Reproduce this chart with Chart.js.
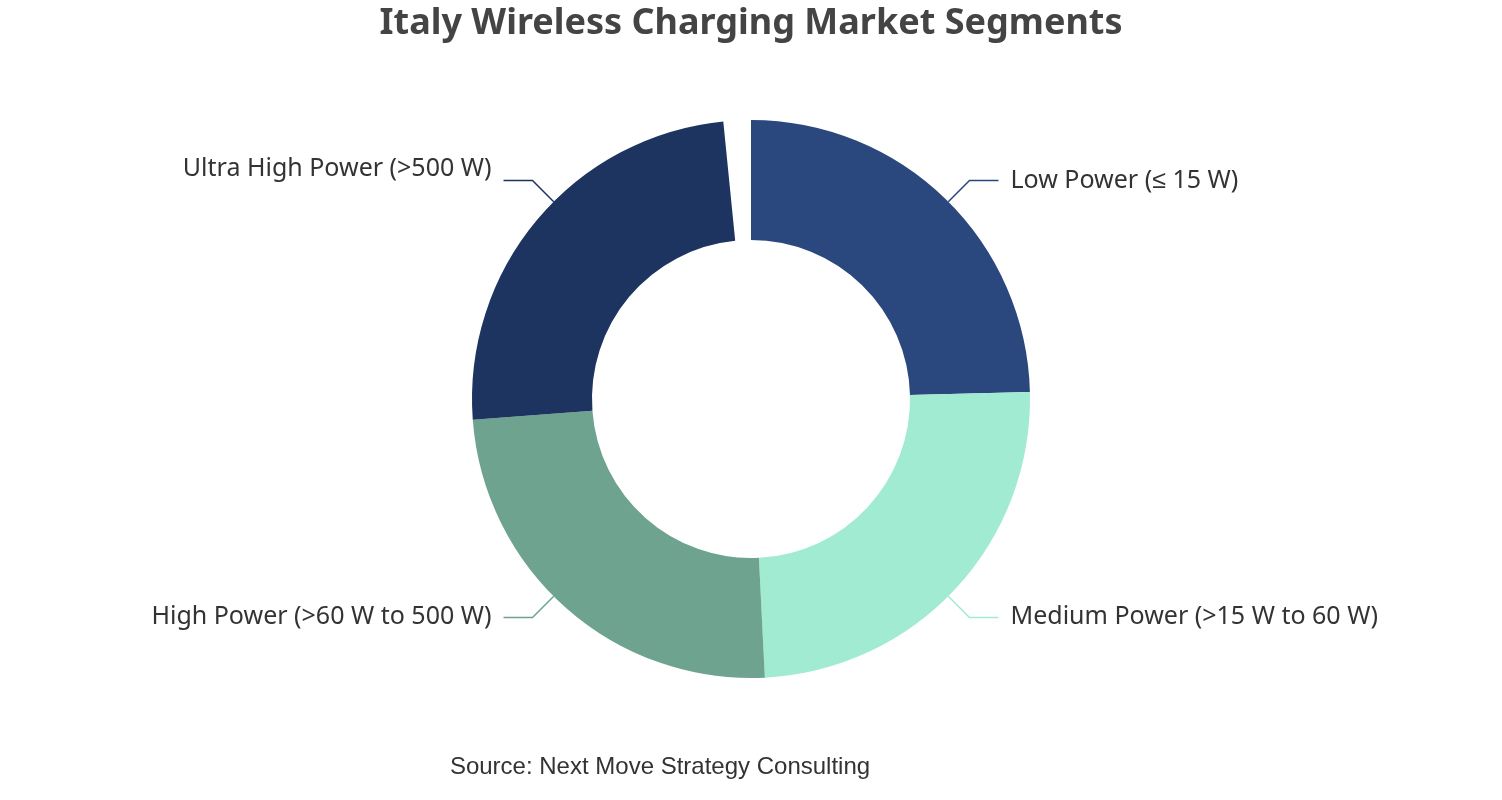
<!DOCTYPE html>
<html>
<head>
<meta charset="utf-8">
<title>Italy Wireless Charging Market Segments</title>
<script src="https://cdn.jsdelivr.net/npm/chart.js@4.4.0/dist/chart.umd.min.js"></script>
<style>
  html, body { margin: 0; padding: 0; background: #fff; }
  #wrap { width: 1502px; height: 800px; position: relative; }
</style>
</head>
<body>
<div id="wrap"><canvas id="segChart" width="1502" height="800"></canvas></div>
<script>
// segment names and shares (equal quarters in the source chart)
const segments = [
  'Low Power (≤ 15 W)',
  'Medium Power (>15 W to 60 W)',
  'High Power (>60 W to 500 W)',
  'Ultra High Power (>500 W)'
];
const shares = [25, 25, 25, 25];
const segmentColors = ['#2a487d', '#a0ebd2', '#6ea48f', '#1e3460'];

const chartTitle = 'Italy Wireless Charging Market Segments';
const sourceNote = 'Source: Next Move Strategy Consulting';

// draws title, source line and the leader-line labels
const outsideLabels = {
  id: 'outsideLabels',
  afterDraw(chart) {
    const ctx = chart.ctx;
    const meta = chart.getDatasetMeta(0);
    const total = shares.reduce((a, b) => a + b, 0);
    const liftY = [0, 0, 0, -12]; // the top-left label sits a bit above its line
    let cum = 0;

    ctx.save();
    meta.data.forEach((arc, i) => {
      const mid = -Math.PI / 2 + 2 * Math.PI * (cum + shares[i] / 2) / total;
      cum += shares[i];
      const r = arc.outerRadius;
      const cos = Math.cos(mid), sin = Math.sin(mid);
      const x0 = arc.x + r * cos, y0 = arc.y + r * sin;
      const x1 = arc.x + (r + 30) * cos, y1 = arc.y + (r + 30) * sin;
      const right = cos >= 0;
      const x2 = x1 + (right ? 29 : -29);

      ctx.strokeStyle = segmentColors[i];
      ctx.lineWidth = 1.5;
      ctx.beginPath();
      ctx.moveTo(x0, y0);
      ctx.lineTo(x1, y1);
      ctx.lineTo(x2, y1);
      ctx.stroke();

      ctx.fillStyle = '#333';
      ctx.font = '25px "Noto Sans", sans-serif';
      ctx.textAlign = right ? 'left' : 'right';
      ctx.textBaseline = 'alphabetic';
      ctx.fillText(segments[i], x2 + (right ? 12 : -12), y1 + 7 + liftY[i]);
    });

    ctx.fillStyle = '#444';
    ctx.font = 'bold 36px "Noto Sans", sans-serif';
    ctx.textAlign = 'center';
    ctx.fillText(chartTitle, chart.width / 2, 34);

    ctx.fillStyle = '#333';
    ctx.font = '24px "Liberation Sans", Arial, sans-serif';
    ctx.fillText(sourceNote, 660, 774);
    ctx.restore();
  }
};

const segChart = new Chart(document.getElementById('segChart'), {
  type: 'doughnut',
  data: {
    labels: segments,
    datasets: [{
      data: shares,
      backgroundColor: segmentColors,
      borderWidth: 0
    }]
  },
  options: {
    responsive: false,
    animation: false,
    cutout: '57%',
    rotation: 0,
    circumference: 354.3,
    layout: { padding: { top: 120, bottom: 122, left: 0, right: 0 } },
    plugins: {
      legend: { display: false },
      tooltip: { enabled: false },
      title: { display: false }
    }
  },
  plugins: [outsideLabels]
});
</script>
</body>
</html>
